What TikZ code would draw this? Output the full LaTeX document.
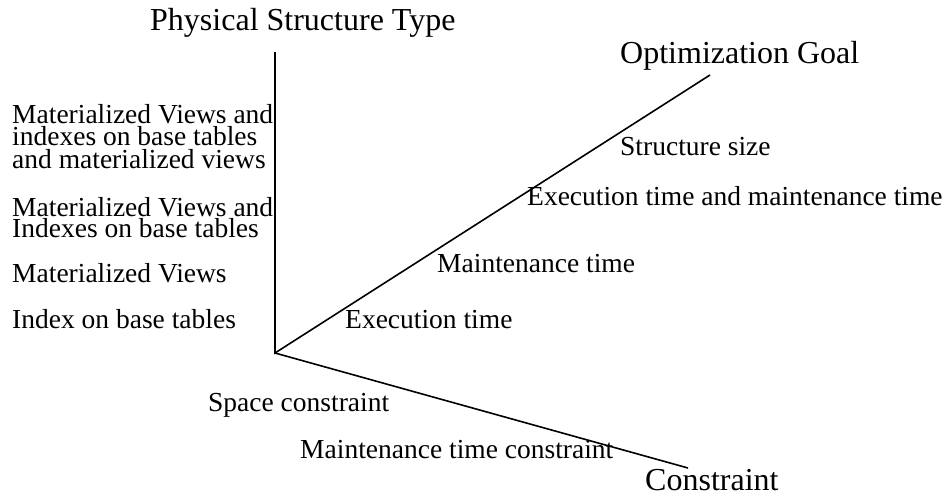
\documentclass[tikz,border=0pt]{standalone}
\usepackage{fontspec}
\setmainfont{Liberation Serif}
\begin{document}
\begin{tikzpicture}[x=1pt,y=-1pt,
  axis/.style={line width=1.6pt,black},
  title/.style={anchor=base west,inner sep=0pt,font=\fontsize{32}{38}\selectfont},
  lab/.style={anchor=base west,inner sep=0pt,font=\fontsize{27.5}{22}\selectfont,align=left,text height=17pt,text depth=3pt}]
\useasboundingbox (0,0) rectangle (947,496);
\coordinate (O) at (275,353);
\coordinate (Ptop) at (275,52);
\coordinate (Gend) at (710,75);
\coordinate (Cend) at (688,468);
\draw[axis] (Ptop) -- (O) -- (Gend);
\draw[axis] (O) -- (Cend);
\node[title] (tP) at (150,30) {Physical Structure Type};
\node[title] (tG) at (620,63) {Optimization Goal};
\node[title] (tC) at (645,490) {Constraint};
\node[lab] (p1a) at (12,123.3) {Materialized Views and};
\node[lab] (p1b) at (12,145.8) {indexes on base tables};
\node[lab] (p1c) at (12,168.3) {and materialized views};
\node[lab] (p2a) at (12,216) {Materialized Views and};
\node[lab] (p2b) at (12,237) {Indexes on base tables};
\node[lab] (p3) at (12,282.7) {Materialized Views};
\node[lab] (p4) at (12,328) {Index on base tables};
\node[lab] (g1) at (345,328) {Execution time};
\node[lab] (g2) at (437,272) {Maintenance time};
\node[lab] (g3) at (527,205) {Execution time and maintenance time};
\node[lab] (g4) at (620,155) {Structure size};
\node[lab] (c1) at (208,411) {Space constraint};
\node[lab] (c2) at (300,458) {Maintenance time constraint};
\end{tikzpicture}
\end{document}
